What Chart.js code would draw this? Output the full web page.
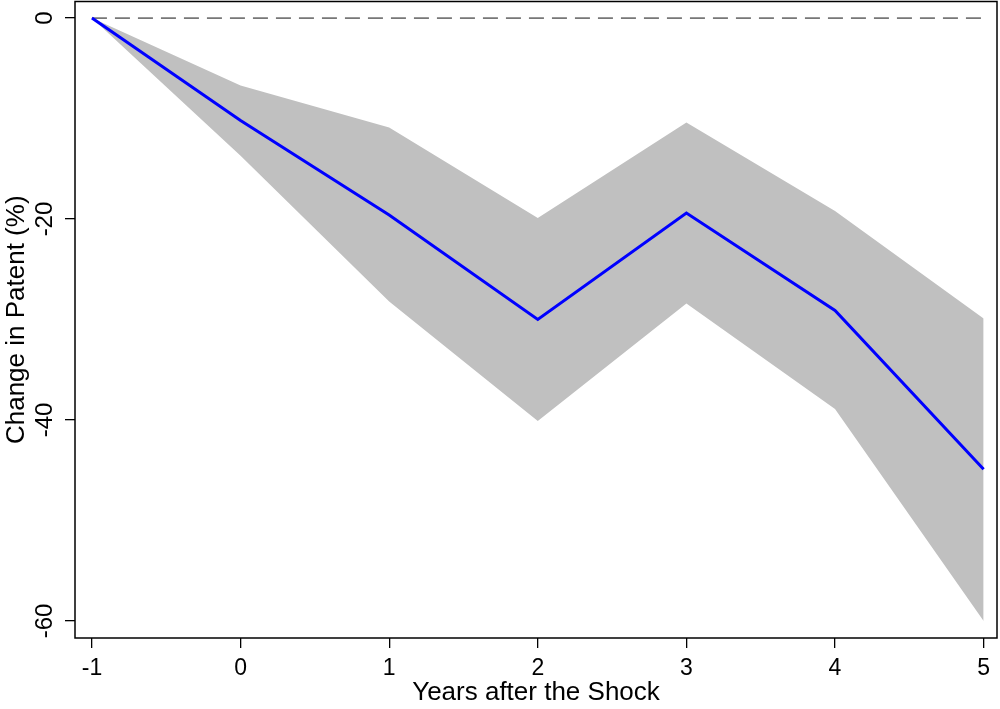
<!DOCTYPE html>
<html>
<head>
<meta charset="utf-8">
<title>Change in Patent</title>
<script src="https://cdn.jsdelivr.net/npm/chart.js@4/dist/chart.umd.min.js"></script>
<style>
  html, body { margin: 0; padding: 0; background: #fff; }
  canvas { display: block; }
</style>
</head>
<body>
<canvas id="chart" width="1000" height="709"></canvas>
<script>
// event-study estimates with 95% band
const years = [-1, 0, 1, 2, 3, 4, 5];
const estimate = [0, -10.2, -19.6, -30.0, -19.4, -29.1, -44.9];
const upperCI = [0, -6.7, -10.9, -19.9, -10.4, -19.2, -29.9];
const lowerCI = [0, -13.7, -28.2, -40.1, -28.4, -38.9, -60.0];
const yTicks = [0, -20, -40, -60];
const xTicks = [-1, 0, 1, 2, 3, 4, 5];

const FONT = '"Liberation Sans", Arial, Helvetica, sans-serif';
const pts = ys => years.map((x, i) => ({ x, y: ys[i] }));

// box around the plot region
const frame = {
  id: 'frame',
  afterDraw(chart) {
    const { ctx, chartArea: a } = chart;
    ctx.save();
    ctx.strokeStyle = '#000';
    ctx.lineWidth = 1.5;
    ctx.strokeRect(a.left, a.top, a.right - a.left, a.bottom - a.top);
    ctx.restore();
  }
};

// vertical tick labels on the y axis (Stata style)
const yLabels = {
  id: 'yLabels',
  afterDraw(chart) {
    const { ctx } = chart;
    const y = chart.scales.y;
    ctx.save();
    ctx.fillStyle = '#000';
    ctx.font = '24px ' + FONT;
    ctx.textAlign = 'center';
    ctx.textBaseline = 'middle';
    y.ticks.forEach(t => {
      ctx.save();
      ctx.translate(45, y.getPixelForValue(t.value));
      ctx.rotate(-Math.PI / 2);
      ctx.fillText(String(t.value), 0, 0);
      ctx.restore();
    });
    ctx.restore();
  }
};

new Chart(document.getElementById('chart'), {
  type: 'line',
  data: {
    datasets: [
      {
        data: pts(estimate),
        borderColor: '#0000ff',
        borderWidth: 3,
        pointRadius: 0,
        fill: false,
        order: 0
      },
      {
        data: [{ x: years[0], y: 0 }, { x: years[years.length - 1], y: 0 }],
        borderColor: '#777',
        borderWidth: 1.6,
        borderDash: [15, 8],
        pointRadius: 0,
        fill: false,
        order: 1
      },
      {
        data: pts(upperCI),
        borderWidth: 0,
        borderColor: 'rgba(0,0,0,0)',
        backgroundColor: '#c0c0c0',
        pointRadius: 0,
        fill: '+1',
        order: 2
      },
      {
        data: pts(lowerCI),
        borderWidth: 0,
        borderColor: 'rgba(0,0,0,0)',
        pointRadius: 0,
        fill: false,
        order: 3
      }
    ]
  },
  options: {
    responsive: false,
    devicePixelRatio: 1,
    animation: false,
    layout: { padding: { top: 1.5, right: 3, left: 0, bottom: 0 } },
    plugins: { legend: { display: false }, tooltip: { enabled: false } },
    scales: {
      x: {
        type: 'linear',
        min: -1.114,
        max: 5.09,
        afterBuildTicks: s => { s.ticks = xTicks.map(v => ({ value: v })); },
        afterFit: s => { s.height = 71; },
        border: { display: false },
        grid: { drawOnChartArea: false, drawTicks: true, tickLength: 10, color: '#000', lineWidth: 1.3 },
        ticks: { color: '#000', font: { family: FONT, size: 23 }, padding: 7, maxRotation: 0 },
        title: {
          display: true,
          text: 'Years after the Shock',
          color: '#000',
          font: { family: FONT, size: 26 },
          padding: { top: 0, bottom: 1 }
        }
      },
      y: {
        min: -61.7,
        max: 1.65,
        afterBuildTicks: s => { s.ticks = yTicks.map(v => ({ value: v })); },
        afterFit: s => { s.width = 75; },
        border: { display: false },
        grid: { drawOnChartArea: false, drawTicks: true, tickLength: 10, color: '#000', lineWidth: 1.3 },
        ticks: { display: false },
        title: {
          display: true,
          text: 'Change in Patent (%)',
          color: '#000',
          font: { family: FONT, size: 26 },
          padding: { top: 1, bottom: 0 }
        }
      }
    }
  },
  plugins: [frame, yLabels]
});
</script>
</body>
</html>
